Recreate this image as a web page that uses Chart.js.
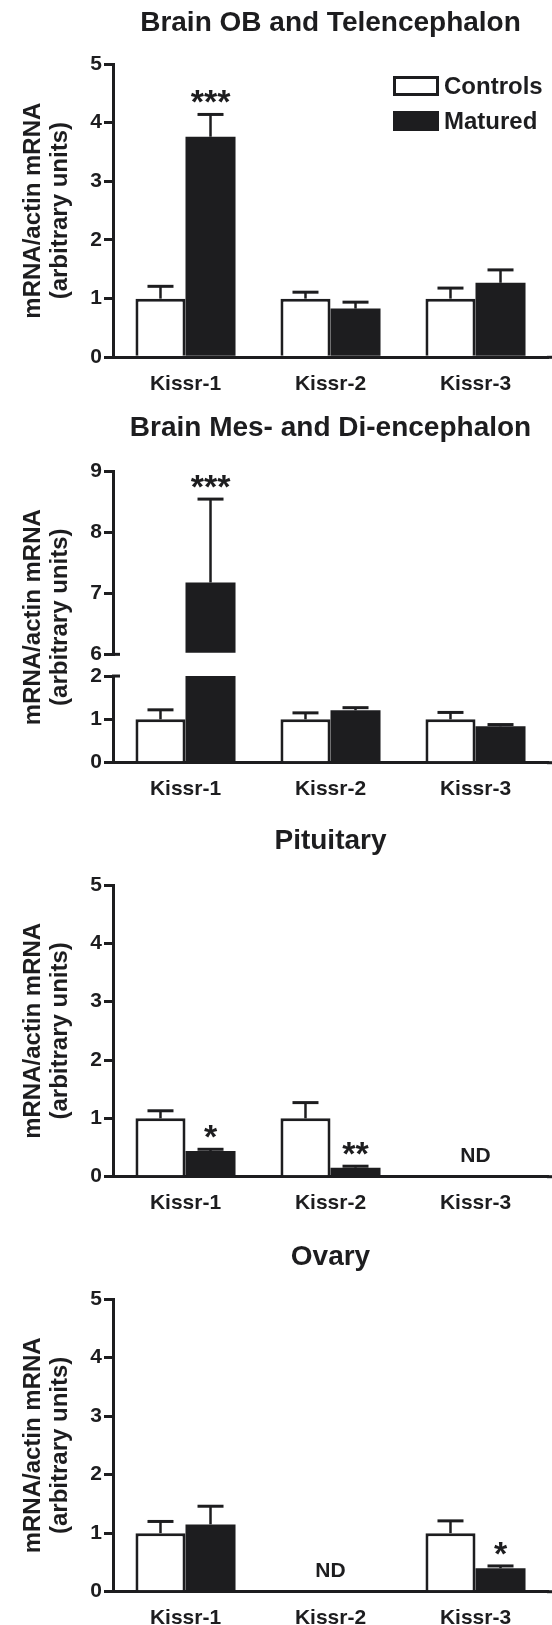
<!DOCTYPE html>
<html>
<head>
<meta charset="utf-8">
<title>Kissr expression</title>
<script src="https://cdn.jsdelivr.net/npm/chart.js@4.4.1/dist/chart.umd.min.js"></script>
<style>
  html, body { margin: 0; padding: 0; background: #fff; }
  #page { position: relative; width: 552px; height: 1625px; overflow: hidden; background: #fff; }
  canvas { position: absolute; left: 0; }
</style>
</head>
<body>
<div id="page">
  <canvas id="c1" width="552" height="400" style="top:0px"></canvas>
  <canvas id="c2" width="552" height="410" style="top:400px"></canvas>
  <canvas id="c3" width="552" height="410" style="top:810px"></canvas>
  <canvas id="c4" width="552" height="405" style="top:1220px"></canvas>
</div>
<script>
// categories
const genes = ['Kissr-1', 'Kissr-2', 'Kissr-3'];

// Brain OB and Telencephalon
const obCtrl = [1.0, 1.0, 1.0];
const obCtrlSem = [0.21, 0.11, 0.18];
const obMat = [3.76, 0.83, 1.27];
const obMatSem = [0.38, 0.11, 0.22];
const obMarks = ['***', '', ''];

// Brain Mes- and Di-encephalon (broken axis)
const mdCtrl = [1.0, 1.0, 1.0];
const mdCtrlSem = [0.22, 0.15, 0.16];
const mdMat = [7.18, 1.21, 0.84];
const mdMatSem = [1.37, 0.06, 0.04];
const mdMarks = ['***', '', ''];

// Pituitary
const pitCtrl = [1.0, 1.0, null];
const pitCtrlSem = [0.13, 0.27, null];
const pitMat = [0.44, 0.155, null];
const pitMatSem = [0.03, 0.025, null];
const pitMarks = ['*', '**', ''];
const pitNd = ['', '', 'ND'];

// Ovary
const ovCtrl = [1.0, null, 1.0];
const ovCtrlSem = [0.2, null, 0.21];
const ovMat = [1.15, null, 0.40];
const ovMatSem = [0.31, null, 0.04];
const ovMarks = ['', '', '*'];
const ovNd = ['', 'ND', ''];

// axis ranges
const yMax = 5;
const brkLow = 2, brkHigh = 6, brkMax = 9; // split y axis of panel 2

const yTitle = ['mRNA/actin mRNA', '(arbitrary units)'];

const INK = '#1d1d1f';
const FONT = "'Liberation Sans', Arial, Helvetica, sans-serif";
const AXIS_W = 113; // room left of the y axis
const TITLE_SIZE = 28;
Chart.defaults.font.family = FONT;
Chart.defaults.color = INK;

// error bars, stars, ND, axis breaks, y title and legend
function figurePlugin(cfg) {
  return {
    id: 'figure',
    afterDatasetsDraw(chart) {
      const ctx = chart.ctx;
      const area = chart.chartArea;
      ctx.save();
      ctx.strokeStyle = INK;
      ctx.fillStyle = INK;

      // x axis goes on to the edge
      ctx.lineWidth = 3;
      ctx.beginPath();
      ctx.moveTo(area.right - 1, area.bottom);
      ctx.lineTo(chart.width, area.bottom);
      ctx.stroke();

      chart.data.datasets.forEach((ds, i) => {
        if (!ds.errs) return;
        const meta = chart.getDatasetMeta(i);
        const ys = chart.scales[meta.yAxisID];
        meta.data.forEach((bar, j) => {
          const v = ds.data[j], e = ds.errs[j];
          if (v == null || e == null) return;
          const top = ys.getPixelForValue(v + e);
          ctx.lineWidth = 2.5;
          ctx.beginPath();
          ctx.moveTo(bar.x, bar.y);
          ctx.lineTo(bar.x, top);
          ctx.stroke();
          ctx.lineWidth = 3;
          ctx.beginPath();
          ctx.moveTo(bar.x - 13, top);
          ctx.lineTo(bar.x + 13, top);
          ctx.stroke();
          const mark = ds.marks && ds.marks[j];
          if (mark) {
            ctx.font = 'bold 34px ' + FONT;
            ctx.textAlign = 'center';
            ctx.textBaseline = 'alphabetic';
            ctx.fillText(mark, bar.x, top - 1);
          }
        });
      });

      // not detected
      if (cfg.nd) {
        const ys = chart.scales.y;
        ctx.font = 'bold 21px ' + FONT;
        ctx.textAlign = 'center';
        ctx.textBaseline = 'middle';
        cfg.nd.forEach((t, j) => {
          if (!t) return;
          ctx.fillText(t, chart.scales.x.getPixelForValue(j), ys.getPixelForValue(0) - 20);
        });
      }

      // break caps on the split axis
      (cfg.breaks || []).forEach(b => {
        const py = chart.scales[b.axis].getPixelForValue(b.value);
        ctx.lineWidth = 3;
        ctx.beginPath();
        ctx.moveTo(area.left - 1, py);
        ctx.lineTo(area.left + 7, py);
        ctx.stroke();
      });
      ctx.restore();
    },
    afterDraw(chart) {
      const ctx = chart.ctx;
      const area = chart.chartArea;
      const midY = (area.top + area.bottom) / 2;
      ctx.save();
      ctx.fillStyle = INK;
      ctx.textAlign = 'center';
      ctx.textBaseline = 'middle';
      ctx.font = 'bold 24px ' + FONT;
      [33, 60].forEach((x, k) => {
        ctx.save();
        ctx.translate(x, midY);
        ctx.rotate(-Math.PI / 2);
        ctx.fillText(yTitle[k], 0, 0);
        ctx.restore();
      });

      if (cfg.legend) {
        const L = cfg.legend;
        chart.data.datasets.slice(0, 2).forEach((ds, k) => {
          const y = L.y + k * L.gap;
          ctx.fillStyle = ds.backgroundColor;
          ctx.fillRect(L.x, y, L.w, L.h);
          if (ds.borderWidth) {
            ctx.lineWidth = 3;
            ctx.strokeStyle = INK;
            ctx.strokeRect(L.x + 1.5, y + 1.5, L.w - 3, L.h - 3);
          }
          ctx.fillStyle = INK;
          ctx.font = 'bold 24px ' + FONT;
          ctx.textAlign = 'left';
          ctx.textBaseline = 'middle';
          ctx.fillText(ds.label, L.x + L.w + 5, y + L.h / 2 + 1);
        });
      }
      ctx.restore();
    }
  };
}

function yAxis(min, max, extra) {
  return Object.assign({
    type: 'linear',
    position: 'left',
    min: min,
    max: max,
    ticks: { stepSize: 1, padding: 2, color: INK, font: { size: 21, weight: 'bold' } },
    grid: { drawOnChartArea: false, drawTicks: true, tickLength: 9, color: INK, lineWidth: 3 },
    border: { display: true, color: INK, width: 3 },
    afterFit: s => { s.width = AXIS_W; }
  }, extra || {});
}

function xAxis(h) {
  return {
    type: 'category',
    offset: true,
    z: 1,
    grid: { display: false, drawTicks: false },
    border: { display: true, color: INK, width: 3 },
    ticks: { padding: 14, color: INK, maxRotation: 0, autoSkip: false, font: { size: 21, weight: 'bold' } },
    afterFit: s => { s.height = h; }
  };
}

function controls(data, errs) {
  return { label: 'Controls', data: data, errs: errs, backgroundColor: '#ffffff',
           borderColor: INK, borderWidth: 3, stack: 'c' };
}
function matured(data, errs, marks, axis) {
  return { label: 'Matured', data: data, errs: errs, marks: marks, backgroundColor: INK,
           borderColor: INK, borderWidth: 0, stack: 'm', yAxisID: axis || 'y' };
}

function makePanel(id, p, title, datasets, scales, extra) {
  const h = document.getElementById(id).height;
  const half = TITLE_SIZE * 1.2 / 2;
  scales.x = xAxis(h - p.plotBottom);
  return new Chart(document.getElementById(id), {
    type: 'bar',
    data: { labels: genes, datasets: datasets },
    options: {
      responsive: false,
      animation: false,
      events: [],
      layout: { padding: { left: 0, right: 4, top: 0, bottom: 0 } },
      datasets: { bar: { categoryPercentage: 0.69, barPercentage: 1 } },
      plugins: {
        legend: { display: false },
        tooltip: { enabled: false },
        title: {
          display: true,
          text: title,
          fullSize: false,
          color: INK,
          font: { size: TITLE_SIZE, weight: 'bold' },
          padding: { top: p.titleY - half, bottom: p.plotTop - p.titleY - half }
        }
      },
      scales: scales
    },
    plugins: [figurePlugin(extra)]
  });
}

// Panel 1
makePanel('c1', { titleY: 23.3, plotTop: 64, plotBottom: 357.3 }, 'Brain OB and Telencephalon',
  [controls(obCtrl, obCtrlSem), matured(obMat, obMatSem, obMarks)],
  { y: yAxis(0, yMax) },
  { legend: { x: 393, y: 76, w: 46, h: 20, gap: 35 } });

// Panel 2, split axis: lower 0-2, gap, upper 6-9
makePanel('c2', { titleY: 28.3, plotTop: 71.7, plotBottom: 362.7 }, 'Brain Mes- and Di-encephalon',
  [
    controls(mdCtrl, mdCtrlSem),
    matured(mdMat.map(v => Math.min(v, brkLow)),
            mdMat.map((v, i) => v > brkLow ? null : mdMatSem[i]), null, 'y'),
    Object.assign(matured(mdMat.map(v => v > brkHigh ? v : null),
            mdMat.map((v, i) => v > brkHigh ? mdMatSem[i] : null), mdMarks, 'yTop'), { base: brkHigh })
  ],
  {
    y: yAxis(0, brkLow, { stack: 'brk', stackWeight: 86.7, weight: 1 }),
    yGap: {
      type: 'linear', position: 'left', min: 0, max: 1, stack: 'brk', stackWeight: 21.7, weight: 2,
      ticks: { display: false }, grid: { display: false }, border: { display: false },
      afterFit: s => { s.width = AXIS_W; }
    },
    yTop: yAxis(brkHigh, brkMax, { stack: 'brk', stackWeight: 182.7, weight: 3 })
  },
  { breaks: [{ axis: 'yTop', value: brkHigh }, { axis: 'y', value: brkLow }] });

// Panel 3
makePanel('c3', { titleY: 31.7, plotTop: 75, plotBottom: 366.7 }, 'Pituitary',
  [controls(pitCtrl, pitCtrlSem), matured(pitMat, pitMatSem, pitMarks)],
  { y: yAxis(0, yMax) },
  { nd: pitNd });

// Panel 4
makePanel('c4', { titleY: 37, plotTop: 79, plotBottom: 371.7 }, 'Ovary',
  [controls(ovCtrl, ovCtrlSem), matured(ovMat, ovMatSem, ovMarks)],
  { y: yAxis(0, yMax) },
  { nd: ovNd });
</script>
</body>
</html>
